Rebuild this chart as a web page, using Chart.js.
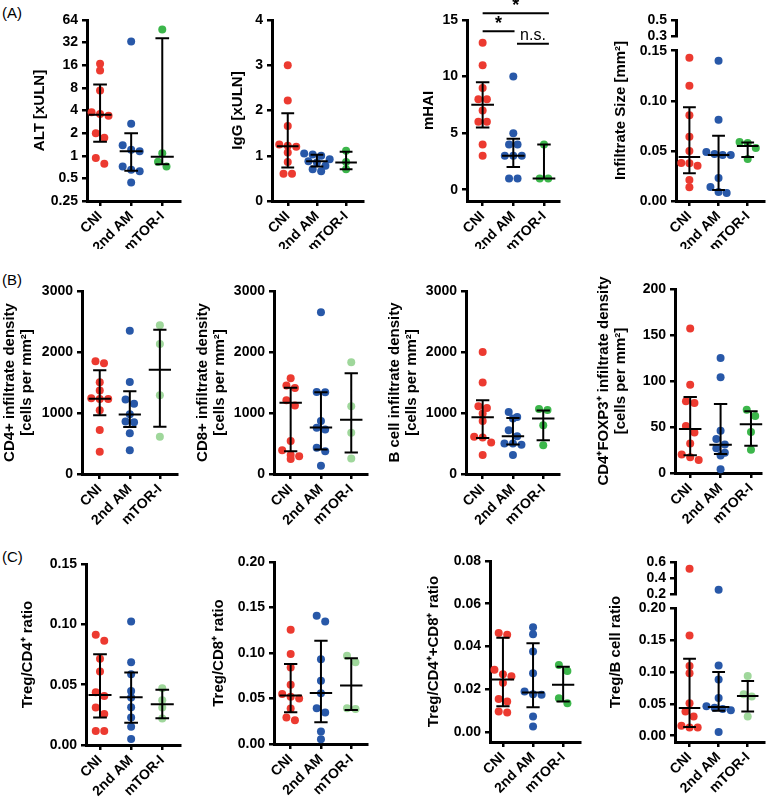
<!DOCTYPE html>
<html>
<head>
<meta charset="utf-8">
<script src="https://cdn.jsdelivr.net/npm/chart.js@4.4.0/dist/chart.umd.min.js"></script>
<style>
body{margin:0;background:#fff;width:768px;height:800px;position:relative;overflow:hidden;font-family:"Liberation Sans",Arial,sans-serif}
canvas{position:absolute}
.tag{position:absolute;font-size:15px;color:#000;left:2px}
</style>
</head>
<body>
<div class="tag" style="top:4px">(A)</div>
<div class="tag" style="top:271px">(B)</div>
<div class="tag" style="top:548px">(C)</div>
<script>
const groups = ['CNI', '2nd AM', 'mTOR-I'];

// (A) ALT [xULN]
const altCNI = [16.7, 13.6, 7.4, 3.8, 3.6, 3.4, 2.0, 1.73, 0.93, 0.78];
const altAM = [33, 2.66, 1.38, 1.2, 1.15, 0.72, 0.65, 0.62, 0.44];
const altMT = [48, 1.08, 0.83, 0.72];
const altMed = [3.5, 1.15, 0.97], altQ1 = [1.54, 0.63, 0.77], altQ3 = [8.9, 2.0, 36.7];
const altTicks = [0.25, 0.5, 1, 2, 4, 8, 16, 32, 64];

// IgG [xULN]
const iggCNI = [3.0, 2.22, 1.66, 1.25, 1.22, 1.2, 1.07, 0.86, 0.6, 0.6];
const iggAM = [1.05, 1.03, 1.0, 0.92, 0.88, 0.85, 0.78, 0.7, 0.66];
const iggMT = [1.11, 0.86, 0.7];
const iggMed = [1.21, 0.88, 0.85], iggQ1 = [0.74, 0.76, 0.7], iggQ3 = [1.94, 1.02, 1.09];
const iggTicks = [0, 1, 2, 3, 4];

// mHAI
const haiCNI = [13, 11, 9, 8, 8, 7, 6, 6, 4, 3];
const haiAM = [10, 5, 4, 4, 3, 3, 3, 1, 1];
const haiMT = [4, 1, 1];
const haiMed = [7.5, 3, 1], haiQ1 = [5.5, 2, 1], haiQ3 = [9.5, 4.5, 4];
const haiTicks = [0, 5, 10, 15];
const sigFrom = [0, 0, 1.12], sigTo = [2.16, 1.04, 2.16], sigAt = [15.6, 14.0, 12.9], sigText = ['*', '*', 'n.s.'];

// Infiltrate size [mm2]
const sizeCNI = [0.143, 0.115, 0.0855, 0.064, 0.05, 0.038, 0.0376, 0.0352, 0.021, 0.0137];
const sizeAM = [0.14, 0.081, 0.049, 0.047, 0.046, 0.046, 0.023, 0.014, 0.009, 0.008];
const sizeMT = [0.059, 0.058, 0.053, 0.042];
const sizeMed = [0.044, 0.046, 0.055], sizeQ1 = [0.0276, 0.011, 0.044], sizeQ3 = [0.0935, 0.065, 0.0585];
const sizeTicks = [0, 0.05, 0.1, 0.15], sizeTopTicks = [0.3, 0.5];

// (B) CD4+ density
const cd4CNI = [1850, 1815, 1505, 1370, 1240, 1230, 1230, 1045, 720, 365];
const cd4AM = [2350, 1510, 1220, 1150, 980, 860, 850, 670, 390];
const cd4MT = [2440, 2130, 1290, 610];
const cd4Med = [1235, 975, 1710], cd4Q1 = [965, 770, 775], cd4Q3 = [1700, 1355, 2365];

// CD8+ density
const cd8CNI = [1570, 1450, 1410, 1210, 1125, 540, 390, 310, 290, 245];
const cd8AM = [2650, 1345, 1340, 870, 760, 730, 430, 375, 135];
const cd8MT = [1830, 1110, 675, 255];
const cd8Med = [1168, 761, 891], cd8Q1 = [375, 402, 353], cd8Q3 = [1413, 1342, 1652];

// B cell density
const bcCNI = [2000, 1500, 1110, 1080, 990, 870, 610, 600, 515, 310];
const bcAM = [1015, 935, 908, 717, 620, 500, 500, 480, 310];
const bcMT = [1065, 1050, 800, 470];
const bcMed = [930, 620, 908], bcQ1 = [592, 484, 554], bcQ3 = [1207, 918, 1043];
const cellTicks = [0, 1000, 2000, 3000];

// CD4+FOXP3+ density
const fxCNI = [157, 96, 78, 76, 51, 44, 32, 20, 17, 14];
const fxAM = [125, 104, 46, 37, 31, 27, 22, 19, 4];
const fxMT = [68.7, 62, 44.5, 25.3];
const fxMed = [47.7, 30.7, 53], fxQ1 = [19.2, 20.6, 29.7], fxQ3 = [82.5, 75, 67];
const fxTicks = [0, 50, 100, 150, 200];

// (C) Treg/CD4+
const r4CNI = [0.0913, 0.0863, 0.0714, 0.0609, 0.0437, 0.0407, 0.031, 0.0257, 0.0116, 0.0116];
const r4AM = [0.1024, 0.0686, 0.0587, 0.0448, 0.0393, 0.0313, 0.0227, 0.0152, 0.005];
const r4MT = [0.047, 0.037, 0.031, 0.022];
const r4Med = [0.0415, 0.0396, 0.0338], r4Q1 = [0.0227, 0.0185, 0.0221], r4Q3 = [0.0753, 0.06, 0.0457];
const r4Ticks = [0, 0.05, 0.1, 0.15];

// Treg/CD8+
const r8CNI = [0.1255, 0.099, 0.084, 0.065, 0.055, 0.052, 0.05, 0.039, 0.029, 0.026];
const r8AM = [0.141, 0.1347, 0.0932, 0.0694, 0.0558, 0.0393, 0.0345, 0.0136, 0.0051];
const r8MT = [0.0969, 0.0899, 0.0393, 0.0385];
const r8Med = [0.0532, 0.056, 0.0642], r8Q1 = [0.035, 0.0239, 0.0374], r8Q3 = [0.088, 0.1134, 0.0943];
const r8Ticks = [0, 0.05, 0.1, 0.15, 0.2];

// Treg/CD4+CD8+
const r48CNI = [0.0463, 0.0455, 0.029, 0.027, 0.026, 0.023, 0.0154, 0.0142, 0.0095, 0.009];
const r48AM = [0.049, 0.0457, 0.0376, 0.0274, 0.0189, 0.0176, 0.0173, 0.0072, 0.0025];
const r48MT = [0.0313, 0.0285, 0.0157, 0.0134];
const r48Med = [0.0245, 0.0184, 0.022], r48Q1 = [0.012, 0.0115, 0.0142], r48Q3 = [0.0441, 0.0415, 0.0304];
const r48Ticks = [0, 0.02, 0.04, 0.06, 0.08];

// Treg/B cell
const rbCNI = [0.518, 0.157, 0.109, 0.098, 0.051, 0.038, 0.030, 0.0156, 0.013, 0.013];
const rbAM = [0.261, 0.11, 0.088, 0.059, 0.046, 0.044, 0.042, 0.04, 0.006];
const rbMT = [0.0935, 0.0649, 0.0613, 0.0301];
const rbMed = [0.0436, 0.045, 0.0623], rbQ1 = [0.0135, 0.039, 0.0379], rbQ3 = [0.1205, 0.0997, 0.0857];
const rbTicks = [0, 0.05, 0.1, 0.15, 0.2], rbTopTicks = [0.2, 0.4, 0.6];

const RED = '#ec3a30', BLUE = '#2858a8', GREEN = '#3cb64b', LGREEN = '#9fd79b';
const FONT = '"Liberation Sans", Arial, sans-serif';
const f2 = v => v.toFixed(2), f1 = v => v.toFixed(1);

const panels = [
  {x:0, y:0, w:192, h:249, L:87, R:180, T:20, B:201, xr:[-0.42, 2.57], title:['ALT [xULN]'], tx:[40],
   ax:{log:true, min:0.25, max:64, ticks:altTicks, fmt:String}, vals:[altCNI, altAM, altMT], med:altMed, q1:altQ1, q3:altQ3, colors:[RED, BLUE, GREEN]},
  {x:192, y:0, w:192, h:249, L:272, R:363, T:20, B:201, xr:[-0.54, 2.58], title:['IgG [xULN]'], tx:[238],
   ax:{min:0, max:4, ticks:iggTicks, fmt:String}, vals:[iggCNI, iggAM, iggMT], med:iggMed, q1:iggQ1, q3:iggQ3, colors:[RED, BLUE, GREEN]},
  {x:384, y:0, w:192, h:249, L:467, R:559, T:20, B:201, xr:[-0.51, 2.49], title:['mHAI'], tx:[429], sig:true,
   ax:{min:-1, max:15, ticks:haiTicks, fmt:String}, vals:[haiCNI, haiAM, haiMT], med:haiMed, q1:haiQ1, q3:haiQ3, colors:[RED, BLUE, GREEN]},
  {x:576, y:0, w:192, h:249, L:676, R:768, T:20, B:201, xr:[-0.46, 2.56], title:['Infiltrate Size [mm²]'], tx:[621],
   ax:{min:0, max:0.15, ticks:sizeTicks, fmt:f2}, top:{min:0.3, max:0.5, h:16, ticks:sizeTopTicks, fmt:f1}, gap:14.7,
   vals:[sizeCNI, sizeAM, sizeMT], med:sizeMed, q1:sizeQ1, q3:sizeQ3, colors:[RED, BLUE, GREEN]},

  {x:0, y:255, w:192, h:280, L:82, R:177, T:291, B:474, xr:[-0.59, 2.57], title:['CD4+ infiltrate density', '[cells per mm²]'], tx:[10, 27],
   ax:{min:0, max:3000, ticks:cellTicks, fmt:String}, vals:[cd4CNI, cd4AM, cd4MT], med:cd4Med, q1:cd4Q1, q3:cd4Q3, colors:[RED, BLUE, LGREEN]},
  {x:192, y:255, w:192, h:280, L:274, R:367, T:291, B:474, xr:[-0.55, 2.52], title:['CD8+ infiltrate density', '[cells per mm²]'], tx:[203, 220],
   ax:{min:0, max:3000, ticks:cellTicks, fmt:String}, vals:[cd8CNI, cd8AM, cd8MT], med:cd8Med, q1:cd8Q1, q3:cd8Q3, colors:[RED, BLUE, LGREEN]},
  {x:384, y:255, w:192, h:280, L:466, R:559, T:291, B:474, xr:[-0.55, 2.52], title:['B cell infiltrate density', '[cells per mm²]'], tx:[395, 412],
   ax:{min:0, max:3000, ticks:cellTicks, fmt:String}, vals:[bcCNI, bcAM, bcMT], med:bcMed, q1:bcQ1, q3:bcQ3, colors:[RED, BLUE, GREEN]},
  {x:576, y:255, w:192, h:280, L:675, R:761, T:289, B:473, xr:[-0.5, 2.33], title:['CD4⁺FOXP3⁺ infiltrate density', '[cells per mm²]'], tx:[604, 621],
   ax:{min:0, max:200, ticks:fxTicks, fmt:String}, vals:[fxCNI, fxAM, fxMT], med:fxMed, q1:fxQ1, q3:fxQ3, colors:[RED, BLUE, GREEN]},

  {x:0, y:535, w:192, h:265, L:86, R:180, T:564, B:745, xr:[-0.45, 2.57], title:['Treg/CD4⁺ ratio'], tx:[28],
   ax:{min:0, max:0.15, ticks:r4Ticks, fmt:f2}, vals:[r4CNI, r4AM, r4MT], med:r4Med, q1:r4Q1, q3:r4Q3, colors:[RED, BLUE, LGREEN]},
  {x:192, y:535, w:192, h:265, L:274, R:367, T:562, B:744, xr:[-0.55, 2.52], title:['Treg/CD8⁺ ratio'], tx:[219],
   ax:{min:0, max:0.2, ticks:r8Ticks, fmt:f2}, vals:[r8CNI, r8AM, r8MT], med:r8Med, q1:r8Q1, q3:r8Q3, colors:[RED, BLUE, LGREEN]},
  {x:384, y:535, w:200, h:265, L:490, R:580, T:561, B:742, xr:[-0.43, 2.56], title:['Treg/CD4⁺+CD8⁺ ratio'], tx:[434],
   ax:{min:-0.0048, max:0.08, ticks:r48Ticks, fmt:f2}, vals:[r48CNI, r48AM, r48MT], med:r48Med, q1:r48Q1, q3:r48Q3, colors:[RED, BLUE, GREEN]},
  {x:576, y:535, w:192, h:265, L:675, R:768, T:562, B:742, xr:[-0.5, 2.56], title:['Treg/B cell ratio'], tx:[616],
   ax:{min:-0.0098, max:0.2, ticks:rbTicks, fmt:f2}, top:{min:0.2, max:0.6, h:32.6, ticks:rbTopTicks, fmt:f1}, gap:13.4,
   vals:[rbCNI, rbAM, rbMT], med:rbMed, q1:rbQ1, q3:rbQ3, colors:[RED, BLUE, LGREEN]}
];

// rotated y titles, centred over the whole (possibly broken) axis
const titlePlugin = {
  id: 'yTitle',
  afterDraw(chart, args, o) {
    const ctx = chart.ctx, a = chart.chartArea;
    ctx.save();
    ctx.font = 'bold 15px ' + FONT;
    ctx.fillStyle = '#000';
    ctx.textAlign = 'center';
    ctx.textBaseline = 'middle';
    o.lines.forEach((t, i) => {
      ctx.save();
      ctx.translate(o.x[i], (a.top + a.bottom) / 2);
      ctx.rotate(-Math.PI / 2);
      ctx.fillText(t, 0, 0);
      ctx.restore();
    });
    ctx.restore();
  }
};

// significance brackets (mHAI)
const sigPlugin = {
  id: 'sig',
  afterDraw(chart, args, o) {
    if (!o.on) return;
    const ctx = chart.ctx, xs = chart.scales.x, ys = chart.scales.y;
    ctx.save();
    ctx.strokeStyle = '#000';
    ctx.fillStyle = '#000';
    ctx.lineWidth = 2;
    ctx.textAlign = 'center';
    ctx.textBaseline = 'middle';
    sigAt.forEach((v, i) => {
      const x0 = xs.getPixelForValue(sigFrom[i]), x1 = xs.getPixelForValue(sigTo[i]), py = ys.getPixelForValue(v);
      ctx.beginPath();
      ctx.moveTo(x0, py);
      ctx.lineTo(x1, py);
      ctx.stroke();
      const star = sigText[i] === '*';
      ctx.font = (star ? 'bold 18px ' : '16px ') + FONT;
      ctx.fillText(sigText[i], (x0 + x1) / 2, py - (star ? 7 : 8));
    });
    ctx.restore();
  }
};

const tickFont = {family: FONT, size: 14, weight: 'bold'};

function makePanel(p) {
  const cv = document.createElement('canvas');
  cv.width = p.w; cv.height = p.h;
  cv.style.left = p.x + 'px'; cv.style.top = p.y + 'px';
  document.body.appendChild(cv);

  const sp = (p.R - p.L) / (p.xr[1] - p.xr[0]);
  const lowH = p.B - p.T - (p.top ? p.top.h + p.gap : 0);
  const pxOf = v => {
    if (p.top && v > p.ax.max) return p.T + p.top.h * (p.top.max - v) / (p.top.max - p.top.min);
    const f = p.ax.log
      ? (Math.log(v) - Math.log(p.ax.min)) / (Math.log(p.ax.max) - Math.log(p.ax.min))
      : (v - p.ax.min) / (p.ax.max - p.ax.min);
    return p.B - f * lowH;
  };
  // spread overlapping dots side by side
  const jitter = vals => {
    const idx = vals.map((v, j) => j).sort((a, b) => pxOf(vals[a]) - pxOf(vals[b]));
    const off = vals.map(() => 0);
    let row = [];
    const flush = () => row.forEach((j, k) => { off[j] = (k - (row.length - 1) / 2) * 8.5; });
    idx.forEach(j => {
      if (row.length && Math.abs(pxOf(vals[j]) - pxOf(vals[row[0]])) >= 6.5) { flush(); row = []; }
      row.push(j);
    });
    flush();
    return off.map(o => o / sp);
  };

  const bars = [];
  for (let i = 0; i < 3; i++) {
    bars.push({x:i - 0.37, y:p.med[i]}, {x:i + 0.37, y:p.med[i]}, {x:i, y:null},
              {x:i - 0.22, y:p.q3[i]}, {x:i + 0.22, y:p.q3[i]}, {x:i, y:null},
              {x:i - 0.22, y:p.q1[i]}, {x:i + 0.22, y:p.q1[i]}, {x:i, y:null},
              {x:i, y:p.q1[i]}, {x:i, y:p.q3[i]}, {x:i, y:null});
  }
  const datasets = [{type:'line', data:bars, borderColor:'#000', borderWidth:2, pointRadius:0, spanGaps:false, order:0, yAxisID:'y', clip:false}];
  p.vals.forEach((vals, i) => {
    const off = jitter(vals);
    const low = [], high = [];
    vals.forEach((v, j) => (p.top && v > p.ax.max ? high : low).push({x:i + off[j], y:v}));
    const base = {type:'scatter', backgroundColor:p.colors[i], pointRadius:4, pointBorderWidth:0, pointHoverRadius:4, order:1, clip:false};
    datasets.push(Object.assign({data:low, yAxisID:'y'}, base));
    if (high.length) datasets.push(Object.assign({data:high, yAxisID:'yTop'}, base));
  });

  const yAxis = (ax, weight, stackWeight) => {
    const s = {
      type: ax.log ? 'logarithmic' : 'linear', position:'left', min:ax.min, max:ax.max, weight,
      border:{display:true, color:'#000', width:3},
      grid:{drawOnChartArea:false, drawTicks:true, tickLength:5, color:'#000', lineWidth:2.5},
      ticks:{color:'#000', font:tickFont, padding:4, autoSkip:false, callback:v => ax.fmt(v)},
      afterBuildTicks: sc => { sc.ticks = ax.ticks.map(v => ({value:v})); },
      afterFit: sc => { sc.width = p.L - p.x; }
    };
    if (p.top) { s.stack = 's'; s.stackWeight = stackWeight; }
    return s;
  };

  const scales = {
    x: {
      type:'linear', min:p.xr[0], max:p.xr[1],
      border:{display:true, color:'#000', width:3},
      grid:{drawOnChartArea:false, drawTicks:true, tickLength:5, color:'#000', lineWidth:2.5},
      ticks:{color:'#000', font:tickFont, minRotation:45, maxRotation:45, autoSkip:false, padding:2, callback:v => groups[v]},
      afterBuildTicks: sc => { sc.ticks = [0, 1, 2].map(v => ({value:v})); },
      afterFit: sc => { sc.height = p.y + p.h - p.B; }
    },
    y: yAxis(p.ax, 0, lowH)
  };
  if (p.top) {
    scales.yTop = yAxis(p.top, 2, p.top.h);
    scales.yGap = {
      type:'linear', position:'left', stack:'s', stackWeight:p.gap, weight:1,
      border:{display:false}, grid:{display:false}, ticks:{display:false},
      afterFit: sc => { sc.width = p.L - p.x; }
    };
  }

  new Chart(cv, {
    type:'scatter',
    data:{datasets},
    options:{
      responsive:false, animation:false, devicePixelRatio:1, events:[],
      layout:{padding:{left:0, top:p.T - p.y, right:p.x + p.w - p.R, bottom:0}},
      scales,
      plugins:{
        legend:{display:false}, tooltip:{enabled:false},
        yTitle:{lines:p.title, x:p.tx.map(t => t - p.x)},
        sig:{on:!!p.sig}
      }
    },
    plugins:[titlePlugin, sigPlugin]
  });
}

panels.forEach(makePanel);
</script>
</body>
</html>
